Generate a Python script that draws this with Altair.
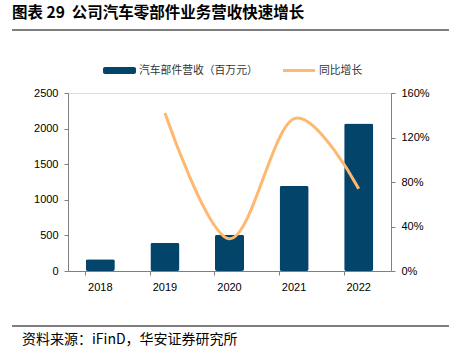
import altair as alt
import pandas as pd

years = ["2018", "2019", "2020", "2021", "2022"]
revenue = [165, 395, 508, 1195, 2070]
growth = [None, 1.42, 0.29, 1.37, 0.74]
legend_labels = ["汽车部件营收（百万元）", "同比增长"]
title_text = "图表 29\u00a0\u00a0公司汽车零部件业务营收快速增长"
source_text = "资料来源：iFinD，华安证券研究所"

df = pd.DataFrame({"year": years, "revenue": revenue, "growth": growth})

W, H = 323, 178
BAR = "#03456A"
LINE = "#FFB86E"
AXC = "#808080"
FONT = "Liberation Sans"
CJK = "Noto Sans CJK SC"

xenc = alt.X(
    "year:N",
    sort=years,
    scale=alt.Scale(paddingInner=0.55, paddingOuter=0.275),
    axis=alt.Axis(title=None, labelAngle=0, bandPosition=0, domainColor=AXC,
                  tickColor=AXC, tickSize=4, labelFont=FONT, labelFontSize=11,
                  labelColor="#000", labelPadding=6, grid=False),
)

bars = alt.Chart(df).mark_bar(color=BAR, cornerRadius=2).encode(
    x=xenc,
    y=alt.Y("revenue:Q", scale=alt.Scale(domain=[0, 2500]),
            axis=alt.Axis(title=None, values=[0, 500, 1000, 1500, 2000, 2500],
                          format="d",
                          orient="left", domainColor=AXC, tickColor=AXC, tickSize=4,
                          labelFont=FONT, labelFontSize=11, labelColor="#000",
                          labelPadding=6, grid=False)),
)

line = alt.Chart(df).transform_filter("isValid(datum.growth)").mark_line(
    color=LINE, strokeWidth=3, interpolate="cardinal"
).encode(
    x=xenc,
    y=alt.Y("growth:Q", scale=alt.Scale(domain=[0, 1.6]),
            axis=alt.Axis(title=None, values=[0, 0.4, 0.8, 1.2, 1.6], format=".0%",
                          orient="right", domainColor=AXC, tickColor=AXC, tickSize=4,
                          labelFont=FONT, labelFontSize=11, labelColor="#000",
                          labelPadding=6, grid=False)),
)

tdf = pd.DataFrame({"t": [title_text]})
title = alt.Chart(tdf).mark_text(align="left", baseline="middle", font=CJK,
                                 fontSize=15.5, fontWeight="bold", color="#000").encode(
    x=alt.value(-56), y=alt.value(-80), text="t:N")
title_rule = alt.Chart(tdf).mark_rule(color="#555", strokeWidth=1.5).encode(
    x=alt.value(-56), x2=alt.value(381), y=alt.value(-63))

sdf = pd.DataFrame({"t": [source_text]})
source = alt.Chart(sdf).mark_text(align="left", baseline="middle", font=CJK,
                                  fontSize=14, color="#000").encode(
    x=alt.value(-46), y=alt.value(H + 69), text="t:N")
source_rule = alt.Chart(sdf).mark_rule(color="#555", strokeWidth=1.5).encode(
    x=alt.value(-56), x2=alt.value(381), y=alt.value(H + 55))

ldf1 = pd.DataFrame({"t": [legend_labels[0]]})
ldf2 = pd.DataFrame({"t": [legend_labels[1]]})
leg_sw1 = alt.Chart(ldf1).mark_rect(color=BAR, cornerRadius=2).encode(
    x=alt.value(35), x2=alt.value(68), y=alt.value(-26), y2=alt.value(-19))
leg_t1 = alt.Chart(ldf1).mark_text(align="left", baseline="middle", font=CJK,
                                   fontSize=10.8, color="#333").encode(
    x=alt.value(71), y=alt.value(-22.5), text="t:N")
leg_sw2 = alt.Chart(ldf2).mark_rule(color=LINE, strokeWidth=3).encode(
    x=alt.value(215), x2=alt.value(247), y=alt.value(-22.5))
leg_t2 = alt.Chart(ldf2).mark_text(align="left", baseline="middle", font=CJK,
                                   fontSize=10.8, color="#333").encode(
    x=alt.value(251), y=alt.value(-22.5), text="t:N")

chart = alt.layer(
    bars, line, title, title_rule, source, source_rule, leg_sw1, leg_t1, leg_sw2, leg_t2
).resolve_scale(y="independent").properties(
    width=W, height=H,
    autosize=alt.AutoSizeParams(type="none"),
    padding={"left": 68, "top": 93, "right": 58, "bottom": 84},
).configure_view(stroke=None).configure(background="white")

chart.save("out.html", embed_options={"renderer": "svg", "actions": False})
